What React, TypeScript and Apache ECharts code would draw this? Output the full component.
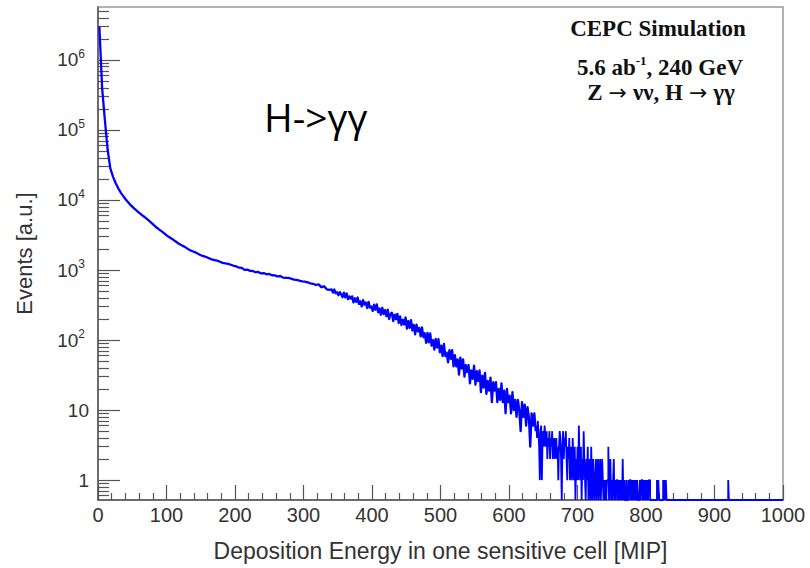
import React, { useEffect, useRef } from "react";
import * as echarts from "echarts";

// ---------------- data ----------------
// Values are in the plot's "Events [a.u.]" units.
// 4-MIP wide bins from 0 to 340 MIP
const BULK_BIN_WIDTH = 4;
const bulkEvents: number[] = [
  3000000, 400000, 140000, 53000, 28200, 21400, 17200, 14450, 12450, 10960,
  9770, 8810, 8040, 7380, 6820, 6340, 5900, 5510, 5105, 4720,
  4355, 4010, 3750, 3510, 3260, 3030, 2858, 2700, 2529, 2370,
  2259, 2160, 2037, 1925, 1854, 1790, 1702, 1625, 1578, 1535,
  1476, 1420, 1390, 1360, 1312, 1265, 1242, 1225, 1190, 1150,
  1125, 1080, 1070, 1005, 1015, 972, 968, 930, 940, 895,
  905, 868, 880, 842, 838, 812, 820, 780, 772, 770,
  752, 728, 722, 705, 690, 682, 668, 646, 636, 612,
  624, 570, 586, 530, 520,
];

// 2-MIP wide bins from 340 to 640 MIP (noisy fall-off)
const MID_START = 340;
const MID_BIN_WIDTH = 2;
const midEvents: number[] = [
  528, 475, 526, 466, 481, 436, 484, 450, 408, 475,
  407, 462, 384, 421, 390, 421, 345, 395, 351, 405,
  328, 359, 302, 371, 320, 343, 287, 351, 290, 302,
  260, 320, 271, 322, 248, 282, 230, 289, 235, 268,
  219, 271, 200, 237, 245, 186, 231, 199, 237, 175,
  218, 164, 195, 167, 210, 146, 187, 149, 193, 137,
  165, 121, 166, 133, 149, 113, 152, 110, 125, 91,
  127, 93, 124, 83, 100, 73, 104, 78, 103, 67,
  83, 59, 88, 59, 66, 48, 72, 54, 72, 42,
  61, 42, 53, 32, 56, 39, 53, 30, 44, 35,
  44, 24, 37, 28, 43, 23, 36, 26, 37, 18,
  31, 21, 34, 17, 26, 19, 29, 13, 25, 19,
  25, 13, 20, 14, 24, 13, 19, 9, 20, 13,
  16, 9, 18, 10, 14, 8, 14, 10, 5, 13,
  8, 12, 6, 11, 8, 3, 9, 6, 9, 5,
];

// 1-MIP wide bins of the sparse tail, from 640 to 830 MIP
const TAIL_START = 640;
const tailEvents: number[] = [
  6, 4, 7, 5, 3, 1, 5, 6, 1, 4,
  5, 3, 6, 4, 3, 5, 2, 4, 3, 5,
  2, 4, 3, 5, 2, 3, 4, 2, 3, 4,
  2, 3, 1, 3, 5, 4, 2, 0, 3, 5,
  2, 4, 3, 5, 2, 1, 3, 2, 4, 1,
  2, 3, 1, 4, 2, 1, 3, 0, 2, 1,
  3, 1, 6, 2, 1, 3, 0, 2, 1, 5,
  2, 1, 0, 2, 1, 3, 0, 1, 2, 0,
  3, 1, 0, 2, 1, 0, 1, 2, 0, 1,
  2, 0, 1, 2, 0, 1, 2, 1, 0, 1,
  0, 1, 0, 1, 1, 3, 0, 1, 2, 0,
  1, 0, 1, 2, 0, 1, 0, 1, 1, 0,
  1, 0, 1, 0, 1, 0, 2, 0, 1, 0,
  0, 1, 0, 0, 1, 0, 1, 1, 0, 1,
  0, 1, 0, 1, 0, 1, 0, 1, 0, 0,
  0, 1, 0, 1, 1, 0, 1, 0, 1, 0,
  1, 0, 1, 0, 1, 1, 0, 0, 0, 0,
  0, 0, 0, 0, 0, 0, 1, 0, 1, 0,
  0, 0, 0, 0, 0, 1, 0, 1, 0, 1,
];

// isolated non-empty 1-MIP bins beyond the tail: [MIP, events]
const lateHits: [number, number][] = [[920, 1]];

const X_MIN = 0;
const X_MAX = 1000;
const X_TICK_STEP = 100;
const Y_MIN = 0.52;
const Y_MAX = 5.7e6;
const Y_MAJOR_TICKS = [1, 10, 100, 1000, 10000, 100000, 1000000];
const Y_MINOR_MULTIPLIERS = [2, 3, 4, 5, 6, 7, 8, 9];

const X_TITLE = "Deposition Energy in one sensitive cell [MIP]";
const Y_TITLE = "Events [a.u.]";
const CEPC_TITLE = "CEPC Simulation";
const LUMI_PARTS = ["5.6 ab", "-1", ", 240 GeV"];
const PROCESS_PARTS = ["Z", "→", "νν, H", "→", "γγ"];
const CHANNEL_LABEL = "H->γγ";

// ---------------- helpers ----------------
const floorZero = (v: number) => (v > 0 ? v : Y_MIN);

// dense part: drawn through the bin centres
function buildBulk(): [number, number][] {
  const pts: [number, number][] = [];
  bulkEvents.forEach((v, i) => pts.push([X_MIN + (i + 0.5) * BULK_BIN_WIDTH, floorZero(v)]));
  midEvents.forEach((v, i) => pts.push([MID_START + (i + 0.5) * MID_BIN_WIDTH, floorZero(v)]));
  return pts;
}

// sparse tail: step histogram, empty bins go down to the axis floor
function buildTail(): [number, number][] {
  const pts: [number, number][] = [];
  tailEvents.forEach((v, j) => pts.push([TAIL_START + j, v]));
  const tailEnd = TAIL_START + tailEvents.length;
  pts.push([tailEnd, 0]);
  lateHits.forEach(([x, v]) => {
    pts.push([x, v]);
    pts.push([x + 1, 0]);
  });
  pts.push([X_MAX, 0]);
  return pts.map(([x, y]) => [x, floorZero(y)]);
}

function minorYTicks(): number[] {
  const out: number[] = [];
  for (let d = 0.1; d <= 1e6; d *= 10) {
    for (const m of Y_MINOR_MULTIPLIERS) {
      const v = Number((m * d).toPrecision(6));
      if (v > Y_MIN && v < Y_MAX) out.push(v);
    }
  }
  return out;
}

const SANS = '"Liberation Sans", Arial, Helvetica, sans-serif';
const SERIF = '"Liberation Serif", "Times New Roman", serif';

export default function App() {
  const ref = useRef<HTMLDivElement>(null);

  useEffect(() => {
    if (!ref.current) return;
    const chart = echarts.init(ref.current, undefined, { renderer: "svg" });
    const axisColor = "#555";
    const lineColor = "#0000ff";
    const option: any = {
      animation: false,
      backgroundColor: "#fff",
      textStyle: { fontFamily: SANS },
      grid: {
        left: 98,
        right: 27,
        top: 7,
        bottom: 68,
        show: true,
        borderColor: "#999",
        borderWidth: 1.5,
        containLabel: false,
        outerBoundsMode: "none",
      },
      xAxis: {
        type: "value",
        min: X_MIN,
        max: X_MAX,
        interval: X_TICK_STEP,
        name: X_TITLE,
        nameLocation: "middle",
        nameGap: 39,
        nameMoveOverlap: false,
        nameTextStyle: { fontSize: 23, color: "#333", fontFamily: SANS },
        axisLine: { onZero: false, lineStyle: { color: axisColor, width: 1.5 } },
        axisTick: { inside: true, length: 15, lineStyle: { color: axisColor, width: 1.2 } },
        minorTick: { show: true, splitNumber: 5, length: 7, lineStyle: { color: axisColor, width: 1.2 } },
        axisLabel: {
          fontSize: 20,
          color: "#333",
          margin: 5,
          fontFamily: SANS,
          formatter: (v: number) => String(v),
        },
        splitLine: { show: false },
        minorSplitLine: { show: false },
      },
      yAxis: [
        {
          type: "log",
          logBase: 10,
          min: Y_MIN,
          max: Y_MAX,
          name: Y_TITLE,
          nameLocation: "middle",
          nameRotate: 90,
          nameGap: 63,
          nameMoveOverlap: false,
          nameTextStyle: { fontSize: 22, color: "#333", fontFamily: SANS },
          axisLine: { onZero: false, lineStyle: { color: axisColor, width: 1.5 } },
          axisTick: {
            inside: true,
            length: 22,
            customValues: Y_MAJOR_TICKS,
            lineStyle: { color: axisColor, width: 1.2 },
          },
          axisLabel: {
            customValues: Y_MAJOR_TICKS,
            margin: 9,
            fontSize: 19,
            color: "#333",
            fontFamily: SANS,
            formatter: (v: number) => {
              const e = Math.round(Math.log10(v));
              if (e === 0) return "1";
              if (e === 1) return "10";
              return `{b|10}{s|${e}}`;
            },
            rich: {
              b: { fontSize: 19, lineHeight: 24, color: "#333", fontFamily: SANS },
              s: {
                fontSize: 12,
                lineHeight: 12,
                verticalAlign: "top",
                color: "#333",
                fontFamily: SANS,
                padding: [0, 4, 0, 0],
              },
            },
          },
          splitLine: { show: false },
        },
        {
          type: "log",
          logBase: 10,
          min: Y_MIN,
          max: Y_MAX,
          position: "left",
          axisLine: { show: false },
          axisTick: {
            inside: true,
            length: 11,
            customValues: minorYTicks(),
            lineStyle: { color: axisColor, width: 1.2 },
          },
          axisLabel: { show: false },
          splitLine: { show: false },
        },
      ],
      series: [
        {
          type: "line",
          data: buildBulk(),
          symbol: "none",
          showSymbol: false,
          clip: true,
          silent: true,
          lineStyle: { color: lineColor, width: 2.3, join: "round" },
          yAxisIndex: 0,
        },
        {
          type: "line",
          data: buildTail(),
          step: "end",
          symbol: "none",
          showSymbol: false,
          clip: true,
          silent: true,
          lineStyle: { color: lineColor, width: 1.8 },
          yAxisIndex: 0,
        },
      ],
      graphic: [
        {
          type: "text",
          x: 658,
          y: 28,
          style: {
            text: CEPC_TITLE,
            font: `bold 23px ${SERIF}`,
            fill: "#111",
            align: "center",
            verticalAlign: "middle",
            textAlign: "center",
            textVerticalAlign: "middle",
          },
        },
        {
          type: "text",
          x: 660,
          y: 67,
          style: {
            text: `{n|${LUMI_PARTS[0]}}{s|${LUMI_PARTS[1]}}{n|${LUMI_PARTS[2]}}`,
            fill: "#111",
            align: "center",
            verticalAlign: "middle",
            textAlign: "center",
            textVerticalAlign: "middle",
            rich: {
              n: { font: `bold 23px ${SERIF}`, lineHeight: 26, fill: "#111" },
              s: { font: `bold 13px ${SERIF}`, lineHeight: 13, verticalAlign: "top", fill: "#111" },
            },
          },
        },
        {
          type: "text",
          x: 661,
          y: 92,
          style: {
            text: `{n|${PROCESS_PARTS[0]}}{a|${PROCESS_PARTS[1]}}{n|${PROCESS_PARTS[2]}}{a|${PROCESS_PARTS[3]}}{n|${PROCESS_PARTS[4]}}`,
            fill: "#111",
            align: "center",
            verticalAlign: "middle",
            textAlign: "center",
            textVerticalAlign: "middle",
            rich: {
              n: { font: `bold 23px ${SERIF}`, lineHeight: 24, fill: "#111" },
              a: {
                font: `22px "DejaVu Sans", sans-serif`,
                lineHeight: 24,
                fill: "#111",
                padding: [0, 6, 0, 6],
              },
            },
          },
        },
        {
          type: "text",
          x: 264,
          y: 116,
          style: {
            text: CHANNEL_LABEL,
            font: `39px "Open Sans", "Noto Sans", sans-serif`,
            fill: "#000",
            align: "left",
            verticalAlign: "middle",
            textAlign: "left",
            textVerticalAlign: "middle",
          },
        },
      ],
    };
    chart.setOption(option);
    return () => chart.dispose();
  }, []);

  return (
    <div
      ref={ref}
      style={{ position: "absolute", left: 0, top: 0, width: 810, height: 568, background: "#fff" }}
    />
  );
}
